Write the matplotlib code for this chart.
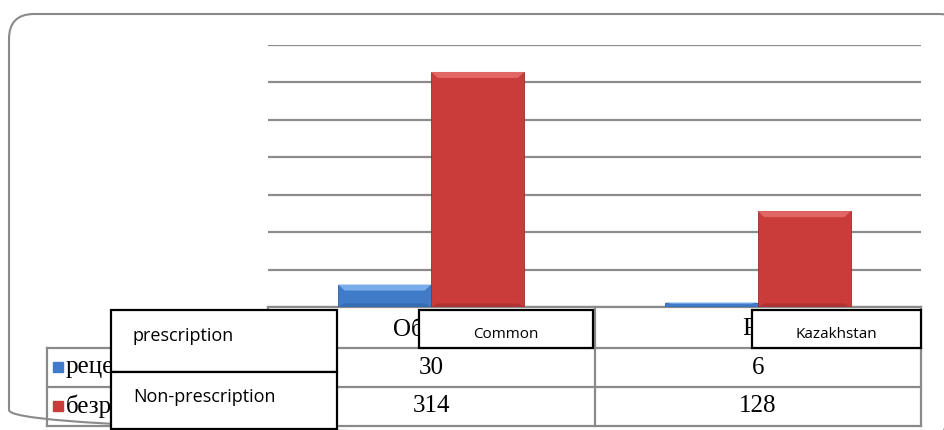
"""
Grouped bars (prescription vs non-prescription) with data table below
"""
import numpy as np
import matplotlib.pyplot as plt
from matplotlib.patches import FancyBboxPatch, Rectangle, Polygon

# Data
categories = ['Общий', 'РК']
series_names = ['рецептурные', 'безрецептурные']
prescription = [30, 6]
non_prescription = [314, 128]
overlay_rows = ['prescription', 'Non-prescription']
overlay_cols = ['Common', 'Kazakhstan']

W, H = 945, 430
fig = plt.figure(figsize=(W / 100, H / 100), dpi=100)
fig.patch.set_facecolor('white')

# Background axes in pixel units (origin top-left) for frame and table
bg = fig.add_axes([0, 0, 1, 1])
bg.set_xlim(0, W)
bg.set_ylim(H, 0)
bg.axis('off')

# Outer rounded frame (runs off the right and bottom)
bg.add_patch(FancyBboxPatch((9, 14), 955, 421,
                            boxstyle="round,pad=0,rounding_size=25",
                            fill=False, edgecolor='#8a8a8a', linewidth=1.5))

# Plot area
left, right, top, base = 268, 921, 45, 307
ax = fig.add_axes([left / W, 1 - base / H, (right - left) / W, (base - top) / H])
ax.set_xlim(-0.5, 1.5)
ax.set_ylim(0, 350)
ax.set_yticks(np.arange(0, 351, 50))
ax.yaxis.grid(True, color='#8c8c8c', linewidth=1.6)
ax.set_axisbelow(True)
for s in ax.spines.values():
    s.set_visible(False)
ax.tick_params(left=False, bottom=False, labelleft=False, labelbottom=False)
ax.patch.set_alpha(0)

x = np.arange(len(categories))
bw = 0.285
blue = '#3f7bc8'
red = '#c93c39'


def bevel_bar(xc, h, col, light, dark):
    ax.bar(xc, h, bw, color=col, edgecolor=dark, linewidth=0.6, zorder=3)
    d = bw * 0.07
    dy = min(h * 0.3, 8)
    # lighter top face and slightly darker lower face
    ax.add_patch(Polygon([[xc - bw / 2, h], [xc + bw / 2, h],
                          [xc + bw / 2 - d, h - dy], [xc - bw / 2 + d, h - dy]],
                         color=light, zorder=4, linewidth=0))
    ax.add_patch(Polygon([[xc - bw / 2, 0], [xc + bw / 2, 0],
                          [xc + bw / 2 - d, dy * 0.6], [xc - bw / 2 + d, dy * 0.6]],
                         color=dark, alpha=0.5, zorder=4, linewidth=0))


for i in x:
    bevel_bar(i - bw / 2, prescription[i], blue, '#79acea', '#2f5f9e')
    bevel_bar(i + bw / 2, non_prescription[i], red, '#e26764', '#9a2c2a')

# Data table
gray = '#8a8a8a'
t_left, col1, col2, t_right = 47, 268, 595, 921
rows_y = [307, 348, 387, 426]

bg.plot([col1, t_right], [rows_y[0]] * 2, color=gray, lw=1.6)
for y in rows_y[1:]:
    bg.plot([t_left, t_right], [y, y], color=gray, lw=1.6)
bg.plot([t_left, t_left], [rows_y[1], rows_y[3]], color=gray, lw=1.6)
for xx in [col1, col2, t_right]:
    bg.plot([xx, xx], [rows_y[0], rows_y[3]], color=gray, lw=1.6)

centers = [(col1 + col2) / 2, (col2 + t_right) / 2]
serif = 'Liberation Serif'
for c, name in zip(centers, categories):
    bg.text(c, 329, name, ha='center', va='center', fontsize=18, family=serif)

# row labels are cut off by the overlay box, so clip them to the visible part
clip = Rectangle((t_left, rows_y[1]), 111 - t_left, rows_y[3] - rows_y[1],
                 transform=bg.transData, visible=False)
bg.add_patch(clip)
for r, (vals, name, col) in enumerate(zip([prescription, non_prescription],
                                          series_names, [blue, red])):
    yc = (rows_y[r + 1] + rows_y[r + 2]) / 2
    bg.add_patch(Rectangle((53, yc - 6), 10, 10, color=col))
    t = bg.text(66, yc, name, ha='left', va='center', fontsize=18, family=serif)
    t.set_clip_path(clip)
    for c, v in zip(centers, vals):
        bg.text(c, yc, str(v), ha='center', va='center', fontsize=18, family=serif)

# Overlay label boxes
sans = 'Open Sans'


def box(x0, y0, x1, y1):
    bg.add_patch(Rectangle((x0, y0), x1 - x0, y1 - y0, facecolor='white',
                           edgecolor='black', linewidth=1.6, zorder=5))


box(111, 310, 337, 372)
box(111, 372, 337, 429)
bg.text(133, 336, overlay_rows[0], ha='left', va='center', fontsize=13,
        family=sans, zorder=6)
bg.text(133, 397, overlay_rows[1], ha='left', va='center', fontsize=13,
        family=sans, zorder=6)
box(419, 310, 593, 348)
bg.text(506, 334, overlay_cols[0], ha='center', va='center', fontsize=11,
        family=sans, zorder=6)
box(752, 310, 921, 348)
bg.text(836, 334, overlay_cols[1], ha='center', va='center', fontsize=11,
        family=sans, zorder=6)

fig.savefig('out.png', dpi=100)
